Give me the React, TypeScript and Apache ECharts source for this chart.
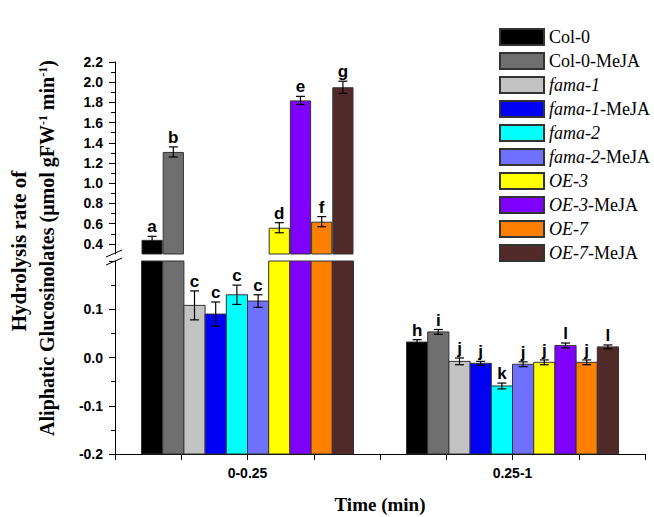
import React, { useEffect, useRef } from "react";
import * as echarts from "echarts";

const categories = ["0-0.25", "0.25-1"];
const groupNames = [
  "Col-0", "Col-0-MeJA", "fama-1", "fama-1-MeJA", "fama-2",
  "fama-2-MeJA", "OE-3", "OE-3-MeJA", "OE-7", "OE-7-MeJA",
];
const colors = [
  "#000000", "#6f6f6f", "#c3c3c3", "#0000f5", "#00ffff",
  "#7070ff", "#ffff00", "#8000ff", "#ff8000", "#522a2a",
];
const values0 = [0.44, 1.31, 0.108, 0.09, 0.13, 0.117, 0.56, 1.82, 0.62, 1.95];
const errors0 = [0.035, 0.05, 0.03, 0.025, 0.02, 0.013, 0.05, 0.04, 0.05, 0.06];
const letters0 = ["a", "b", "c", "c", "c", "c", "d", "e", "f", "g"];
const values1 = [0.032, 0.053, -0.008, -0.012, -0.059, -0.014, -0.01, 0.025, -0.01, 0.022];
const errors1 = [0.005, 0.005, 0.007, 0.004, 0.006, 0.005, 0.005, 0.005, 0.005, 0.004];
const letters1 = ["h", "i", "j", "j", "k", "j", "j", "l", "j", "l"];

const upperMin = 0.3;
const upperMax = 2.2;
const upperTicks = [0.4, 0.6, 0.8, 1.0, 1.2, 1.4, 1.6, 1.8, 2.0, 2.2];
const upperMinorTicks = [0.5, 0.7, 0.9, 1.1, 1.3, 1.5, 1.7, 1.9, 2.1];
const lowerMin = -0.2;
const lowerMax = 0.2;

const allValues = [values0, values1];
const allErrors = [errors0, errors1];
const allLetters = [letters0, letters1];

const SANS = '"Liberation Sans", Arial, sans-serif';
const SERIF = '"Liberation Serif", "Times New Roman", serif';

export default function App() {
  const ref = useRef<HTMLDivElement>(null);
  useEffect(() => {
    if (!ref.current) return;
    const chart = echarts.init(ref.current, undefined, { renderer: "svg" });

    const items: number[][] = [];
    const letters: string[] = [];
    for (let c = 0; c < categories.length; c++) {
      for (let s = 0; s < groupNames.length; s++) {
        items.push([c, allValues[c][s], allErrors[c][s], s]);
        letters.push(allLetters[c][s]);
      }
    }

    const errorParts = (api: any, cat: number, v: number, e: number, x: number, idx: number) => {
      const top = api.coord([cat, v + e])[1];
      const bot = api.coord([cat, v - e])[1];
      const st = { stroke: "#000", lineWidth: 1.2 };
      return [
        { type: "line", shape: { x1: x, y1: top, x2: x, y2: bot }, style: st },
        { type: "line", shape: { x1: x - 4.5, y1: top, x2: x + 4.5, y2: top }, style: st },
        { type: "line", shape: { x1: x - 4.5, y1: bot, x2: x + 4.5, y2: bot }, style: st },
        {
          type: "text",
          style: {
            text: letters[idx], x, y: top - 1,
            textAlign: "center", textVerticalAlign: "bottom",
            font: `bold 17px ${SANS}`, fill: "#000",
          },
        },
      ];
    };

    const upperRender = (params: any, api: any) => {
      const cat = api.value(0), v = api.value(1), e = api.value(2), s = api.value(3);
      if (v <= upperMin) return null;
      const band = api.size([1, 0])[0];
      const bw = (band * 0.8) / groupNames.length;
      const x = api.coord([cat, v])[0] + (s - 4.5) * bw;
      return { type: "group", children: errorParts(api, cat, v, e, x, params.dataIndex) };
    };

    const lowerRender = (params: any, api: any) => {
      const cat = api.value(0), v = api.value(1), e = api.value(2), s = api.value(3);
      const band = api.size([1, 0])[0];
      const bw = (band * 0.8) / groupNames.length;
      const x = api.coord([cat, v])[0] + (s - 4.5) * bw;
      const top = api.coord([cat, v])[1];
      const base = api.coord([cat, lowerMin])[1];
      const cs = params.coordSys;
      const rect = echarts.graphic.clipRectByRect(
        { x: x - bw / 2, y: top, width: bw, height: base - top },
        { x: cs.x, y: cs.y, width: cs.width, height: cs.height }
      );
      const children: any[] = [];
      if (rect) {
        children.push({
          type: "rect", shape: rect,
          style: { fill: colors[s], stroke: "#333", lineWidth: 1 },
        });
      }
      if (v < lowerMax) children.push(...errorParts(api, cat, v, e, x, params.dataIndex));
      return { type: "group", children };
    };

    const barSeries = groupNames.map((name, s) => ({
      type: "bar",
      name,
      xAxisIndex: 0,
      yAxisIndex: 0,
      barGap: "0%",
      barCategoryGap: "20%",
      itemStyle: { color: colors[s], borderColor: "#333", borderWidth: 1 },
      data: categories.map((_, c) => (allValues[c][s] > upperMin ? allValues[c][s] : "-")),
    }));

    const legendFormatter = (name: string) => {
      if (name.startsWith("Col")) return `{n|${name}}`;
      const base = name.replace("-MeJA", "");
      const rest = name.slice(base.length);
      return rest ? `{i|${base}}{n|${rest}}` : `{i|${base}}`;
    };

    const labelStyle = { fontFamily: SANS, fontWeight: "bold", fontSize: 14, color: "#000" };
    const axisLine = { show: true, onZero: false, lineStyle: { color: "#000", width: 1 } };

    chart.setOption({
      animation: false,
      backgroundColor: "#fff",
      grid: [
        { left: 115, right: 9, top: 62, height: 192 },
        { left: 115, right: 9, top: 261, height: 193 },
      ],
      legend: {
        data: groupNames,
        orient: "vertical",
        left: 499,
        top: 28,
        padding: 0,
        itemWidth: 44,
        itemHeight: 16,
        itemGap: 6,
        icon: "rect",
        selectedMode: false,
        formatter: legendFormatter,
        textStyle: {
          fontFamily: SERIF, fontSize: 18, color: "#000", lineHeight: 18,
          rich: {
            i: { fontFamily: SERIF, fontSize: 18, fontStyle: "italic", color: "#000", lineHeight: 18 },
            n: { fontFamily: SERIF, fontSize: 18, color: "#000", lineHeight: 18 },
          },
        },
      },
      xAxis: [
        { type: "category", gridIndex: 0, data: categories, show: false },
        {
          type: "category", gridIndex: 1, data: categories, position: "bottom",
          axisLine, axisTick: { show: false },
          axisLabel: { ...labelStyle, fontSize: 14, margin: 12 },
        },
        {
          type: "value", gridIndex: 1, position: "bottom", min: 0.5, max: 2.5, interval: 0.25,
          axisLine: { show: false, onZero: false },
          axisTick: { show: true, length: 6, lineStyle: { color: "#000" } },
          axisLabel: { show: false }, splitLine: { show: false },
        },
      ],
      yAxis: [
        {
          type: "value", gridIndex: 0, position: "left", min: upperMin, max: upperMax,
          axisLine,
          axisTick: { show: true, length: 6, customValues: upperTicks, lineStyle: { color: "#000" } },
          axisLabel: {
            ...labelStyle, margin: 12, customValues: upperTicks,
            formatter: (v: number) => v.toFixed(1),
          },
          splitLine: { show: false },
        },
        {
          type: "value", gridIndex: 0, position: "left", min: upperMin, max: upperMax,
          axisLine: { show: false, onZero: false },
          axisTick: { show: true, length: 4, customValues: upperMinorTicks, lineStyle: { color: "#000" } },
          axisLabel: { show: false },
          splitLine: { show: false },
        },
        {
          type: "value", gridIndex: 1, position: "left", min: lowerMin, max: lowerMax, interval: 0.1,
          axisLine,
          axisTick: { show: true, length: 6, lineStyle: { color: "#000" } },
          minorTick: { show: true, splitNumber: 2, length: 4, lineStyle: { color: "#000" } },
          axisLabel: {
            ...labelStyle, margin: 12,
            formatter: (v: number) =>
              Math.abs(v - lowerMax) < 1e-9 ? "" : Math.abs(v) < 1e-9 ? "0.0" : v.toFixed(1),
          },
          splitLine: { show: false },
          minorSplitLine: { show: false },
        },
      ],
      series: [
        ...barSeries,
        {
          type: "custom", name: "upperErr", xAxisIndex: 0, yAxisIndex: 0,
          clip: false, renderItem: upperRender, data: items, z: 5,
        },
        {
          type: "custom", name: "lower", xAxisIndex: 1, yAxisIndex: 2,
          clip: false, renderItem: lowerRender, data: items, z: 5,
        },
      ],
      graphic: [
        {
          type: "line", shape: { x1: 106, y1: 257, x2: 122, y2: 250 },
          style: { stroke: "#000", lineWidth: 1 }, z: 10,
        },
        {
          type: "line", shape: { x1: 106, y1: 265, x2: 122, y2: 258 },
          style: { stroke: "#000", lineWidth: 1 }, z: 10,
        },
        {
          type: "text", x: 19, y: 251, rotation: Math.PI / 2,
          style: {
            text: "Hydrolysis rate of", font: `bold 21px ${SERIF}`, fill: "#000",
            textAlign: "center", textVerticalAlign: "middle",
          },
        },
        {
          type: "text", x: 47, y: 248, rotation: Math.PI / 2,
          style: {
            text: "Aliphatic Glucosinolates (\u03bcmol gFW{sup|-1} min{sup|-1})",
            font: `bold 20px ${SERIF}`, fill: "#000",
            textAlign: "center", textVerticalAlign: "middle",
            rich: {
              sup: { fontSize: 12, fontWeight: "bold", fontFamily: SERIF, verticalAlign: "top", fill: "#000" },
            },
          },
        },
        {
          type: "text", x: 380, y: 504,
          style: {
            text: "Time (min)", font: `bold 19px ${SERIF}`, fill: "#000",
            textAlign: "center", textVerticalAlign: "middle",
          },
        },
      ],
    });
    return () => chart.dispose();
  }, []);
  return (
    <div
      ref={ref}
      style={{ position: "absolute", left: 0, top: 0, width: 654, height: 517 }}
    />
  );
}
